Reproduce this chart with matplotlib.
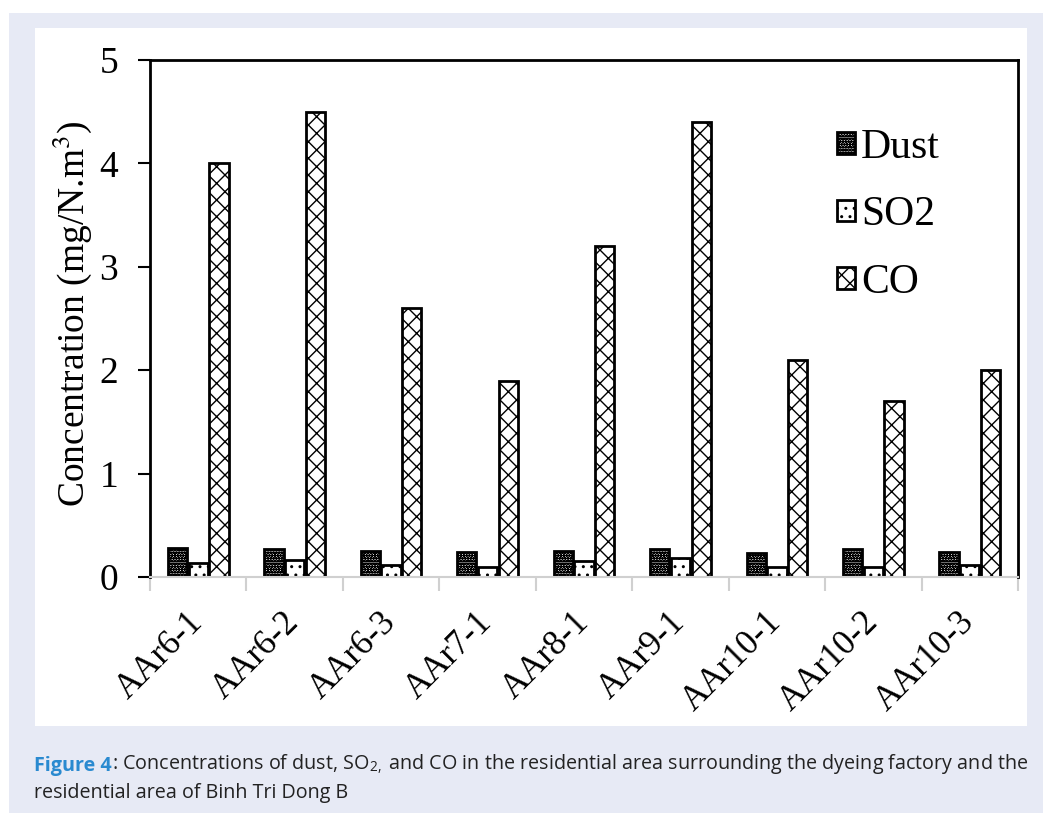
import numpy as np
import matplotlib.pyplot as plt
from matplotlib.patches import Rectangle
from matplotlib.transforms import ScaledTranslation

sites = ['AAr6-1', 'AAr6-2', 'AAr6-3', 'AAr7-1', 'AAr8-1',
         'AAr9-1', 'AAr10-1', 'AAr10-2', 'AAr10-3']
dust = [0.28, 0.27, 0.25, 0.24, 0.25, 0.27, 0.23, 0.27, 0.24]
so2 = [0.14, 0.16, 0.12, 0.10, 0.15, 0.18, 0.10, 0.10, 0.12]
co = [4.0, 4.5, 2.6, 1.9, 3.2, 4.4, 2.1, 1.7, 2.0]

W, H = 1043, 813
plt.rcParams['mathtext.fontset'] = 'stix'
plt.rcParams['hatch.linewidth'] = 1.0
fig = plt.figure(figsize=(W / 100, H / 100), dpi=100, facecolor='white')

# page background + white panel
fig.patches.append(Rectangle((9 / W, 0), 1, 1 - 13 / H, transform=fig.transFigure,
                             facecolor='#e7eaf5', edgecolor='none', zorder=-2))
fig.patches.append(Rectangle((35 / W, 1 - 726 / H), (1027 - 35) / W, (726 - 28) / H,
                             transform=fig.transFigure, facecolor='white',
                             edgecolor='none', zorder=-1))

ax = fig.add_axes([150 / W, 1 - 577 / H, (1018 - 150) / W, (577 - 60) / H])
ax.set_facecolor('none')

x = np.arange(len(sites))
w = 0.2
ax.bar(x - 0.215, dust, w, facecolor='white', edgecolor='black', hatch='oooooo',
       linewidth=2, label='Dust')
ax.bar(x, so2, w, facecolor='white', edgecolor='black', hatch='..',
       linewidth=2, label='SO2')
ax.bar(x + 0.215, co, w, facecolor='white', edgecolor='black', hatch='xx',
       linewidth=2, label='CO')

ax.set_xlim(-0.5, len(sites) - 0.5)
ax.set_ylim(0, 5)
ax.set_yticks([0, 1, 2, 3, 4, 5])

serif = 'Liberation Serif'
ax.set_yticklabels([str(v) for v in range(6)], fontfamily=serif, fontsize=27)

# category labels, rotated, drawn at the category centres
ax.set_xticks(x)
ax.set_xticklabels([''] * len(sites))
ax.tick_params(axis='x', length=0)
off = ax.get_xaxis_transform() + ScaledTranslation(-12 / 100, -29 / 100, fig.dpi_scale_trans)
for xi, name in zip(x, sites):
    ax.text(xi, 0, name, transform=off, rotation=45, ha='right', va='top',
            rotation_mode='anchor', fontfamily=serif, fontsize=25)

ax.set_xticks(np.arange(len(sites) + 1) - 0.5, minor=True)
ax.tick_params(axis='x', which='minor', length=10, width=1.5, color='#d0d0d0')
ax.tick_params(axis='y', length=9, width=1.5, direction='out', pad=14)

for s in ['left', 'top', 'right']:
    ax.spines[s].set_linewidth(2)
    ax.spines[s].set_color('black')
ax.spines['bottom'].set_color('#d0d0d0')
ax.spines['bottom'].set_linewidth(1.5)

ax.set_ylabel('Concentration (mg/N.m$^3$)', fontfamily=serif, fontsize=27)
ax.yaxis.set_label_coords(-0.064, 0.51)

leg = ax.legend(loc='upper left', bbox_to_anchor=(0.792, 0.868), frameon=False,
                prop={'family': serif, 'size': 30}, handlelength=0.42,
                handleheight=0.42, handletextpad=0.15, labelspacing=0.7,
                borderaxespad=0, borderpad=0)

# caption
cap_font = 'Open Sans'
cs = 14.2
t1 = fig.text(34 / W, 1 - 771 / H, 'Figure 4', color='#2a8ad0', fontweight='bold',
              fontfamily=cap_font, fontsize=cs, va='baseline')
t2 = ax.annotate(': Concentrations of dust, SO$_{\\mathregular{2,}}$ and CO in the residential '
                 'area surrounding the dyeing factory and the',
                 xy=(1, 0), xycoords=t1, va='bottom', ha='left',
                 fontfamily=cap_font, fontsize=cs, color='#222222')
fig.text(34 / W, 1 - 798 / H, 'residential area of Binh Tri Dong B',
         fontfamily=cap_font, fontsize=cs, color='#222222', va='baseline')

fig.savefig('out.png', dpi=100)
